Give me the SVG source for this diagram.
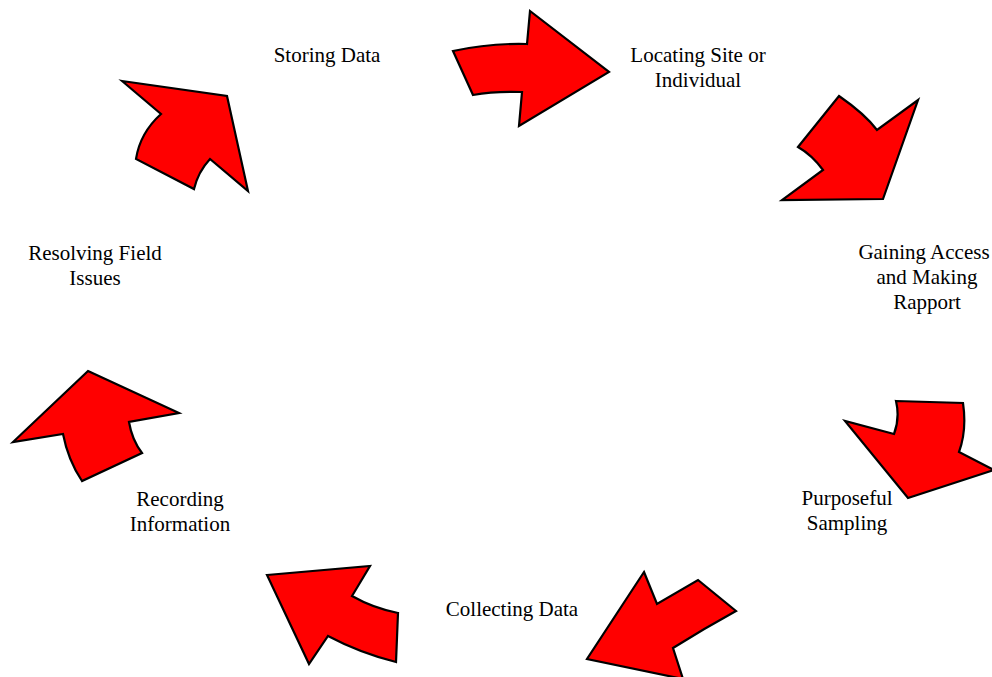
<svg xmlns="http://www.w3.org/2000/svg" width="992" height="677" viewBox="0 0 992 677">
<style>
.arr{fill:#ff0000;stroke:#000;stroke-width:2.2;stroke-linejoin:miter}
.lbl{font-family:"Liberation Serif","Times New Roman",serif;font-size:21px;fill:#000;text-anchor:middle}
</style>
<rect width="992" height="677" fill="#fff"/>
<g id="connectors">
<path id="a1" class="arr" d="M453,51 Q490,43 527,44 L530,11 L609,72 L519,126 L522,92 Q495,91 473,95 Z"/>
<path id="a2" class="arr" d="M839,96 Q865,114 877,130 L918,100 L883,199 L782,200 L823,170 Q812,155 798,147 Z"/>
<path id="a3" class="arr" d="M896,401 L963,403 Q967,430 959,452 L994,470 L908,498 L845,421 L894,434 Q900,418 896,401 Z"/>
<path id="a4" class="arr" d="M644,572 L657,604 L698,580 L736,611 Q705,628 673,648 L683,679 L587,659 Z"/>
<path id="a5" class="arr" d="M267,575 L370,566 L352,596 Q373,608 398,613 L396,662 Q360,653 328,636 L309,664 Z"/>
<path id="a6" class="arr" d="M88,371 L179,413 L129,422 Q132,440 142,453 L82,481 Q68,460 63,434 L13,442 Z"/>
<path id="a7" class="arr" d="M122,81 L227,96 L248,191 L210,159 Q198,172 194,189 L136,159 Q140,133 161,114 Z"/>
</g>
<g id="n1"><text class="lbl" x="327" y="62">Storing Data</text></g>
<g id="n2"><text class="lbl" x="698" y="62">Locating Site or</text><text class="lbl" x="698" y="87">Individual</text></g>
<g id="n3"><text class="lbl" x="924" y="259">Gaining Access</text><text class="lbl" x="927" y="284">and Making</text><text class="lbl" x="927" y="309">Rapport</text></g>
<g id="n4"><text class="lbl" x="847" y="505">Purposeful</text><text class="lbl" x="847" y="530">Sampling</text></g>
<g id="n5"><text class="lbl" x="512" y="616">Collecting Data</text></g>
<g id="n6"><text class="lbl" x="180" y="506">Recording</text><text class="lbl" x="180" y="531">Information</text></g>
<g id="n7"><text class="lbl" x="95" y="260">Resolving Field</text><text class="lbl" x="95" y="285">Issues</text></g>
</svg>
